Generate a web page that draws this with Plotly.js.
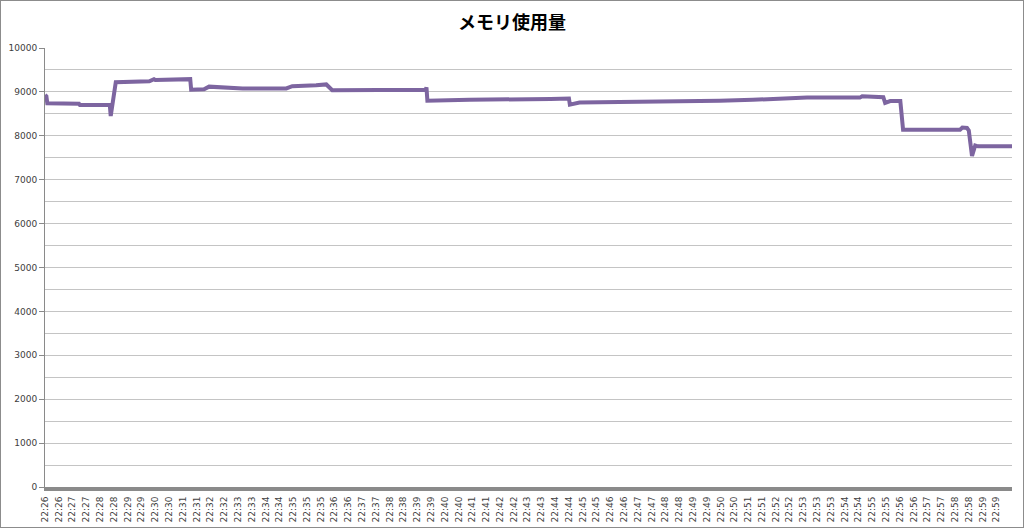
<!DOCTYPE html>
<html>
<head>
<meta charset="utf-8">
<script src="https://cdn.plot.ly/plotly-3.0.1.min.js"></script>
<style>
  html, body { margin: 0; padding: 0; background: #fff; }
  #frame { width: 1024px; height: 528px; box-sizing: border-box; border: 1px solid #8c8c8c; }
  #chart { width: 1022px; height: 526px; }
</style>
</head>
<body>
<div id="frame"><div id="chart"></div></div>
<script>
// Tick labels (one every 30 samples)
const tickLabels = [
  "22:26","22:26","22:27","22:27","22:28","22:28","22:29","22:29","22:30","22:30",
  "22:31","22:31","22:32","22:32","22:33","22:33","22:34","22:34","22:35","22:35",
  "22:35","22:36","22:36","22:37","22:37","22:38","22:38","22:39","22:39","22:40",
  "22:40","22:41","22:41","22:42","22:42","22:43","22:43","22:44","22:44","22:45",
  "22:45","22:46","22:46","22:47","22:47","22:48","22:48","22:49","22:49","22:50",
  "22:50","22:51","22:51","22:52","22:52","22:53","22:53","22:53","22:54","22:54",
  "22:55","22:55","22:56","22:56","22:57","22:57","22:58","22:58","22:59","22:59"
];
const samplesPerLabel = 30;
const lastSample = 2104;

// Memory usage series (sample index, value)
const sampleIdx = [
  0, 3, 5, 74, 76, 100, 104, 112, 138, 141, 143, 154, 227, 237, 240, 314, 316, 318,
  346, 357, 373, 423, 430, 525, 538, 590, 608, 612, 625, 700, 760, 828, 830, 832,
  924, 1033, 1100, 1140, 1142, 1163, 1250, 1300, 1396, 1468, 1540, 1614, 1658,
  1773, 1778, 1824, 1828, 1839, 1861, 1867, 1991, 1996, 2006, 2010, 2017, 2024,
  2030, 2104
];
const memory = [
  8930, 8900, 8740, 8730, 8700, 8700, 8720, 8700, 8710, 8700, 8450, 9220, 9240, 9290, 9270, 9270, 9290, 9050,
  9060, 9120, 9110, 9100, 9080, 9080, 9130, 9150, 9180, 9170, 9040, 9050, 9040, 9050, 9100, 8800,
  8820, 8820, 8840, 8850, 8710, 8760, 8770, 8790, 8780, 8800, 8820, 8850, 8870,
  8870, 8900, 8880, 8750, 8790, 8790, 8140, 8140, 8190, 8180, 8120, 7540, 7780,
  7760, 7760
];
const yTicks = [0, 1000, 2000, 3000, 4000, 5000, 6000, 7000, 8000, 9000, 10000];

const tickVals = tickLabels.map((_, i) => i * samplesPerLabel);

const trace = {
  x: sampleIdx,
  y: memory,
  type: 'scatter',
  mode: 'lines',
  line: { color: '#7d65a0', width: 4 },
  hoverinfo: 'skip'
};

const layout = {
  width: 1022,
  height: 526,
  margin: { l: 44, r: 11, t: 47, b: 40 },
  paper_bgcolor: '#ffffff',
  plot_bgcolor: '#ffffff',
  showlegend: false,
  title: {
    text: '<b>メモリ使用量</b>',
    font: { family: '"Noto Sans CJK JP", sans-serif', size: 18, color: '#000000' },
    x: 0.5, xanchor: 'center', y: 0.958, yanchor: 'middle'
  },
  xaxis: {
    range: [0, lastSample],
    tickmode: 'array',
    tickvals: tickVals,
    ticktext: tickLabels,
    tickangle: -90,
    tickfont: { family: 'DejaVu Sans, sans-serif', size: 9, color: '#404040' },
    showgrid: false,
    zeroline: false,
    showline: true,
    linecolor: '#8a8a8a',
    linewidth: 4,
    ticks: '',
    ticklabelstandoff: 2,
    fixedrange: true
  },
  yaxis: {
    range: [0, 10000],
    tickmode: 'array',
    tickvals: yTicks,
    ticktext: yTicks.map(String),
    tickfont: { family: 'DejaVu Sans, sans-serif', size: 9, color: '#404040' },
    showgrid: true,
    gridcolor: '#c4c4c4',
    gridwidth: 1,
    minor: { dtick: 500, showgrid: true, gridcolor: '#c4c4c4', gridwidth: 1 },
    zeroline: false,
    showline: true,
    linecolor: '#8a8a8a',
    linewidth: 1,
    ticks: 'outside',
    ticklen: 5,
    tickcolor: '#8a8a8a',
    fixedrange: true
  }
};

Plotly.newPlot('chart', [trace], layout, { staticPlot: true, displayModeBar: false });
</script>
</body>
</html>
